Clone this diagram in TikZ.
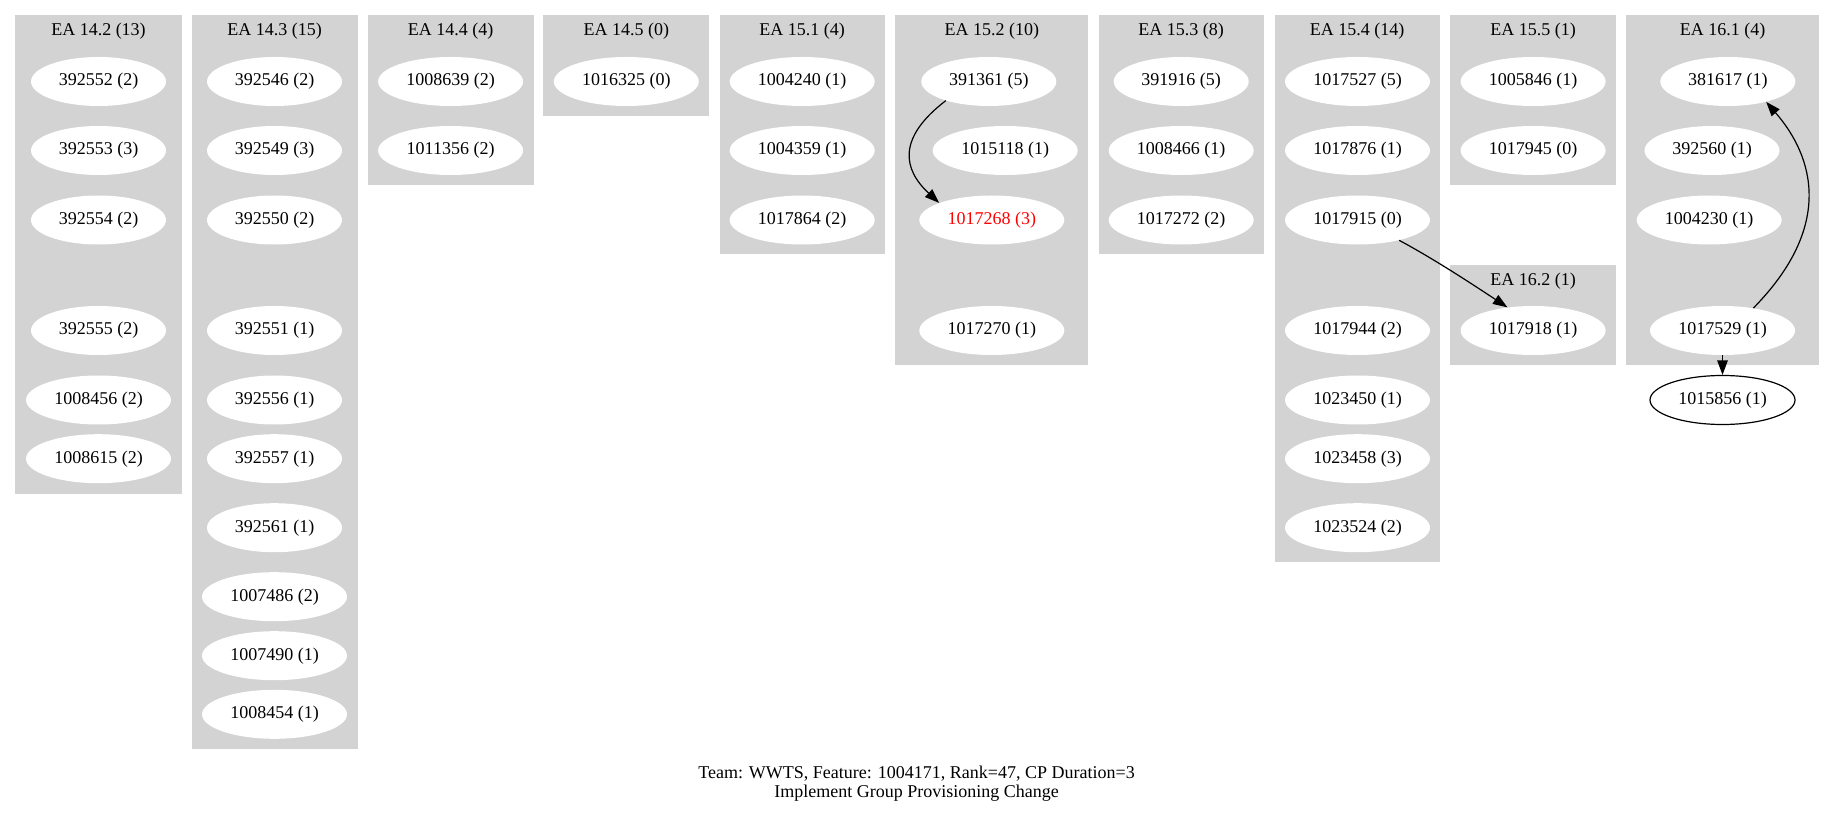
\documentclass[tikz,border=0pt]{standalone}
\usepackage{fontspec}
\setmainfont{Liberation Serif}
\usetikzlibrary{shapes.geometric,arrows.meta}
\definecolor{clgray}{HTML}{D3D3D3}
\definecolor{gvred}{HTML}{FF0000}
\begin{document}
\begin{tikzpicture}[x=0.75pt,y=-0.75pt,
  every node/.style={font=\fontsize{13.5}{16}\selectfont},
  task/.style={ellipse, fill=white, inner sep=0pt, minimum height=36.75pt, minimum width=101.25pt},
  taskl/.style={task, minimum width=108.75pt},
  clus/.style={fill=clgray, draw=none},
  edge/.style={-{Triangle[length=10.8pt,width=7.8pt]}, line width=0.9pt, black}
]
\useasboundingbox (0,0) rectangle (1835,816);
\fill[white] (0,0) rectangle (1835,816);

% clusters
\fill[clus] (15.3,15.3) rectangle (181.7,493.5);
\fill[clus] (191.5,15.3) rectangle (357.5,749);
\fill[clus] (367.5,15.3) rectangle (533.7,185.3);
\fill[clus] (543.3,15.3) rectangle (709.3,115.9);
\fill[clus] (719.5,15.3) rectangle (885,254.5);
\fill[clus] (895.3,15.3) rectangle (1088.3,365.5);
\fill[clus] (1098.5,15.3) rectangle (1264,254.5);
\fill[clus] (1274.5,15.3) rectangle (1440,561.7);
\fill[clus] (1450,15.3) rectangle (1616.2,185);
\fill[clus] (1450,265) rectangle (1616.2,365.5);
\fill[clus] (1626,15.3) rectangle (1819,365.5);

% cluster titles
\node (t142) at (98.5,31) {EA 14.2 (13)};
\node (t143) at (274.5,31) {EA 14.3 (15)};
\node (t144) at (450.6,31) {EA 14.4 (4)};
\node (t145) at (626.3,31) {EA 14.5 (0)};
\node (t151) at (802.2,31) {EA 15.1 (4)};
\node (t152) at (991.8,31) {EA 15.2 (10)};
\node (t153) at (1181.2,31) {EA 15.3 (8)};
\node (t154) at (1357.2,31) {EA 15.4 (14)};
\node (t155) at (1533.1,31) {EA 15.5 (1)};
\node (t162) at (1533.1,281) {EA 16.2 (1)};
\node (t161) at (1722.5,31) {EA 16.1 (4)};

% EA 14.2
\node[task]  (n392552)  at (98.5,81.5)  {392552 (2)};
\node[task]  (n392553)  at (98.5,150.5) {392553 (3)};
\node[task]  (n392554)  at (98.5,220)   {392554 (2)};
\node[task]  (n392555)  at (98.5,330.5) {392555 (2)};
\node[taskl] (n1008456) at (98.5,400)   {1008456 (2)};
\node[taskl] (n1008615) at (98.5,458.7) {1008615 (2)};

% EA 14.3
\node[task]  (n392546)  at (274.5,81.5)  {392546 (2)};
\node[task]  (n392549)  at (274.5,150.5) {392549 (3)};
\node[task]  (n392550)  at (274.5,220)   {392550 (2)};
\node[task]  (n392551)  at (274.5,330.5) {392551 (1)};
\node[task]  (n392556)  at (274.5,400)   {392556 (1)};
\node[task]  (n392557)  at (274.5,458.7) {392557 (1)};
\node[task]  (n392561)  at (274.5,527.7) {392561 (1)};
\node[taskl] (n1007486) at (274.5,596.7) {1007486 (2)};
\node[taskl] (n1007490) at (274.5,655.7) {1007490 (1)};
\node[taskl] (n1008454) at (274.5,714.3) {1008454 (1)};

% EA 14.4
\node[taskl] (n1008639) at (450.6,81.5)  {1008639 (2)};
\node[taskl] (n1011356) at (450.6,150.5) {1011356 (2)};

% EA 14.5
\node[taskl] (n1016325) at (626.3,81.5) {1016325 (0)};

% EA 15.1
\node[taskl] (n1004240) at (802.2,81.5)  {1004240 (1)};
\node[taskl] (n1004359) at (802.2,150.5) {1004359 (1)};
\node[taskl] (n1017864) at (802.2,220)   {1017864 (2)};

% EA 15.2
\node[task]  (n391361)  at (988.8,81.5)  {391361 (5)};
\node[taskl] (n1015118) at (1005.2,150.5) {1015118 (1)};
\node[taskl, text=gvred] (n1017268) at (991.8,220) {1017268 (3)};
\node[taskl] (n1017270) at (991.8,330.5) {1017270 (1)};

% EA 15.3
\node[task]  (n391916)  at (1181.2,81.5)  {391916 (5)};
\node[taskl] (n1008466) at (1181.2,150.5) {1008466 (1)};
\node[taskl] (n1017272) at (1181.2,220)   {1017272 (2)};

% EA 15.4
\node[taskl] (n1017527) at (1357.5,81.5)  {1017527 (5)};
\node[taskl] (n1017876) at (1357.5,150.5) {1017876 (1)};
\node[taskl] (n1017915) at (1357.5,220)   {1017915 (0)};
\node[taskl] (n1017944) at (1357.5,330.5) {1017944 (2)};
\node[taskl] (n1023450) at (1357.5,400)   {1023450 (1)};
\node[taskl] (n1023458) at (1357.5,458.7) {1023458 (3)};
\node[taskl] (n1023524) at (1357.5,527.7) {1023524 (2)};

% EA 15.5
\node[taskl] (n1005846) at (1533.1,81.5)  {1005846 (1)};
\node[taskl] (n1017945) at (1533.1,150.5) {1017945 (0)};

% EA 16.2
\node[taskl] (n1017918) at (1533.1,330.5) {1017918 (1)};

% EA 16.1
\node[task]  (n381617)  at (1727.8,81.5)  {381617 (1)};
\node[task]  (n392560)  at (1712,150.5)   {392560 (1)};
\node[taskl] (n1004230) at (1709.2,220)   {1004230 (1)};
\node[taskl] (n1017529) at (1722.5,330.5) {1017529 (1)};

% outside
\node[taskl, draw=black, line width=0.9pt] (n1015856) at (1722.5,400) {1015856 (1)};

% edges
\draw[edge] (n391361.204) .. controls (896.7,138.2) and (903.1,169.5) .. (n1017268.162);
\draw[edge] (n1017915.-26) .. controls (1434,259) and (1472,284) .. (n1017918.138.5);
\draw[edge] (n1017529.36.6) .. controls (1834,226) and (1814,157) .. (n381617.-28);
\draw[edge] (n1017529) -- (n1015856);

% caption
\node (cap1) at (916.5,773.6) {Team: WWTS, Feature: 1004171, Rank=47, CP Duration=3};
\node (cap2) at (916.5,793.5) {Implement Group Provisioning Change};
\end{tikzpicture}
\end{document}
